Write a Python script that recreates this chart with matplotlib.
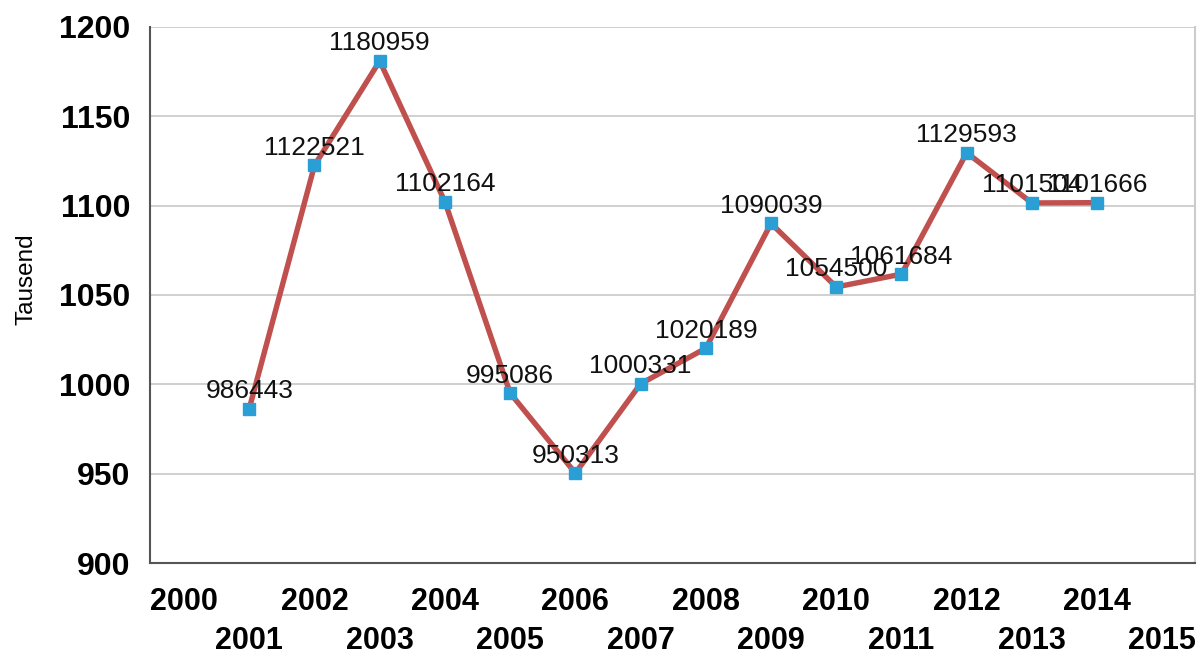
import matplotlib.pyplot as plt

plt.rcParams['font.family'] = ['Liberation Sans', 'DejaVu Sans']

years = [2001, 2002, 2003, 2004, 2005, 2006, 2007, 2008, 2009, 2010, 2011, 2012, 2013, 2014]
values = [986443, 1122521, 1180959, 1102164, 995086, 950313, 1000331, 1020189,
          1090039, 1054500, 1061684, 1129593, 1101504, 1101666]
tick_years = list(range(2000, 2016))
y_ticks = [900, 950, 1000, 1050, 1100, 1150, 1200]

fig = plt.figure(figsize=(12.01, 6.57), dpi=100)
ax = fig.add_axes([0.125, 0.143, 0.870, 0.816])

thousands = [v / 1000 for v in values]
ax.plot(years, thousands, color='#c0504d', lw=3.9, marker='s', ms=9,
        mfc='#2a9fd6', mec='#2a9fd6', zorder=3)

for x, v, t in zip(years, thousands, values):
    ax.annotate(str(t), (x, v), xytext=(0, 4), textcoords='offset points',
                ha='center', va='bottom', fontsize=19, color='#111111', zorder=4)

ax.set_xlim(1999.48, 2015.5)
ax.set_ylim(900, 1200)
ax.set_yticks(y_ticks)
ax.set_yticklabels([str(t) for t in y_ticks], fontsize=23, fontweight='bold')
ax.set_xticks(tick_years)
ax.set_xticklabels([str(t) if i % 2 == 0 else '\n' + str(t) for i, t in enumerate(tick_years)],
                   fontsize=22, fontweight='bold', linespacing=1.4)
ax.tick_params(axis='both', length=0)
ax.tick_params(axis='x', pad=17)
ax.tick_params(axis='y', pad=14)

ax.grid(axis='y', color='#c8c8c8', lw=1.2)
ax.set_axisbelow(True)
ax.spines['left'].set_color('#555555')
ax.spines['left'].set_linewidth(1.5)
ax.spines['bottom'].set_color('#555555')
ax.spines['bottom'].set_linewidth(1.5)
ax.spines['right'].set_color('#cccccc')
ax.spines['right'].set_linewidth(1.5)
ax.spines['top'].set_visible(False)

ax.set_ylabel('Tausend', fontsize=17.5)
ax.yaxis.set_label_coords(-0.108, 0.53)

fig.savefig('out.png', dpi=100)
